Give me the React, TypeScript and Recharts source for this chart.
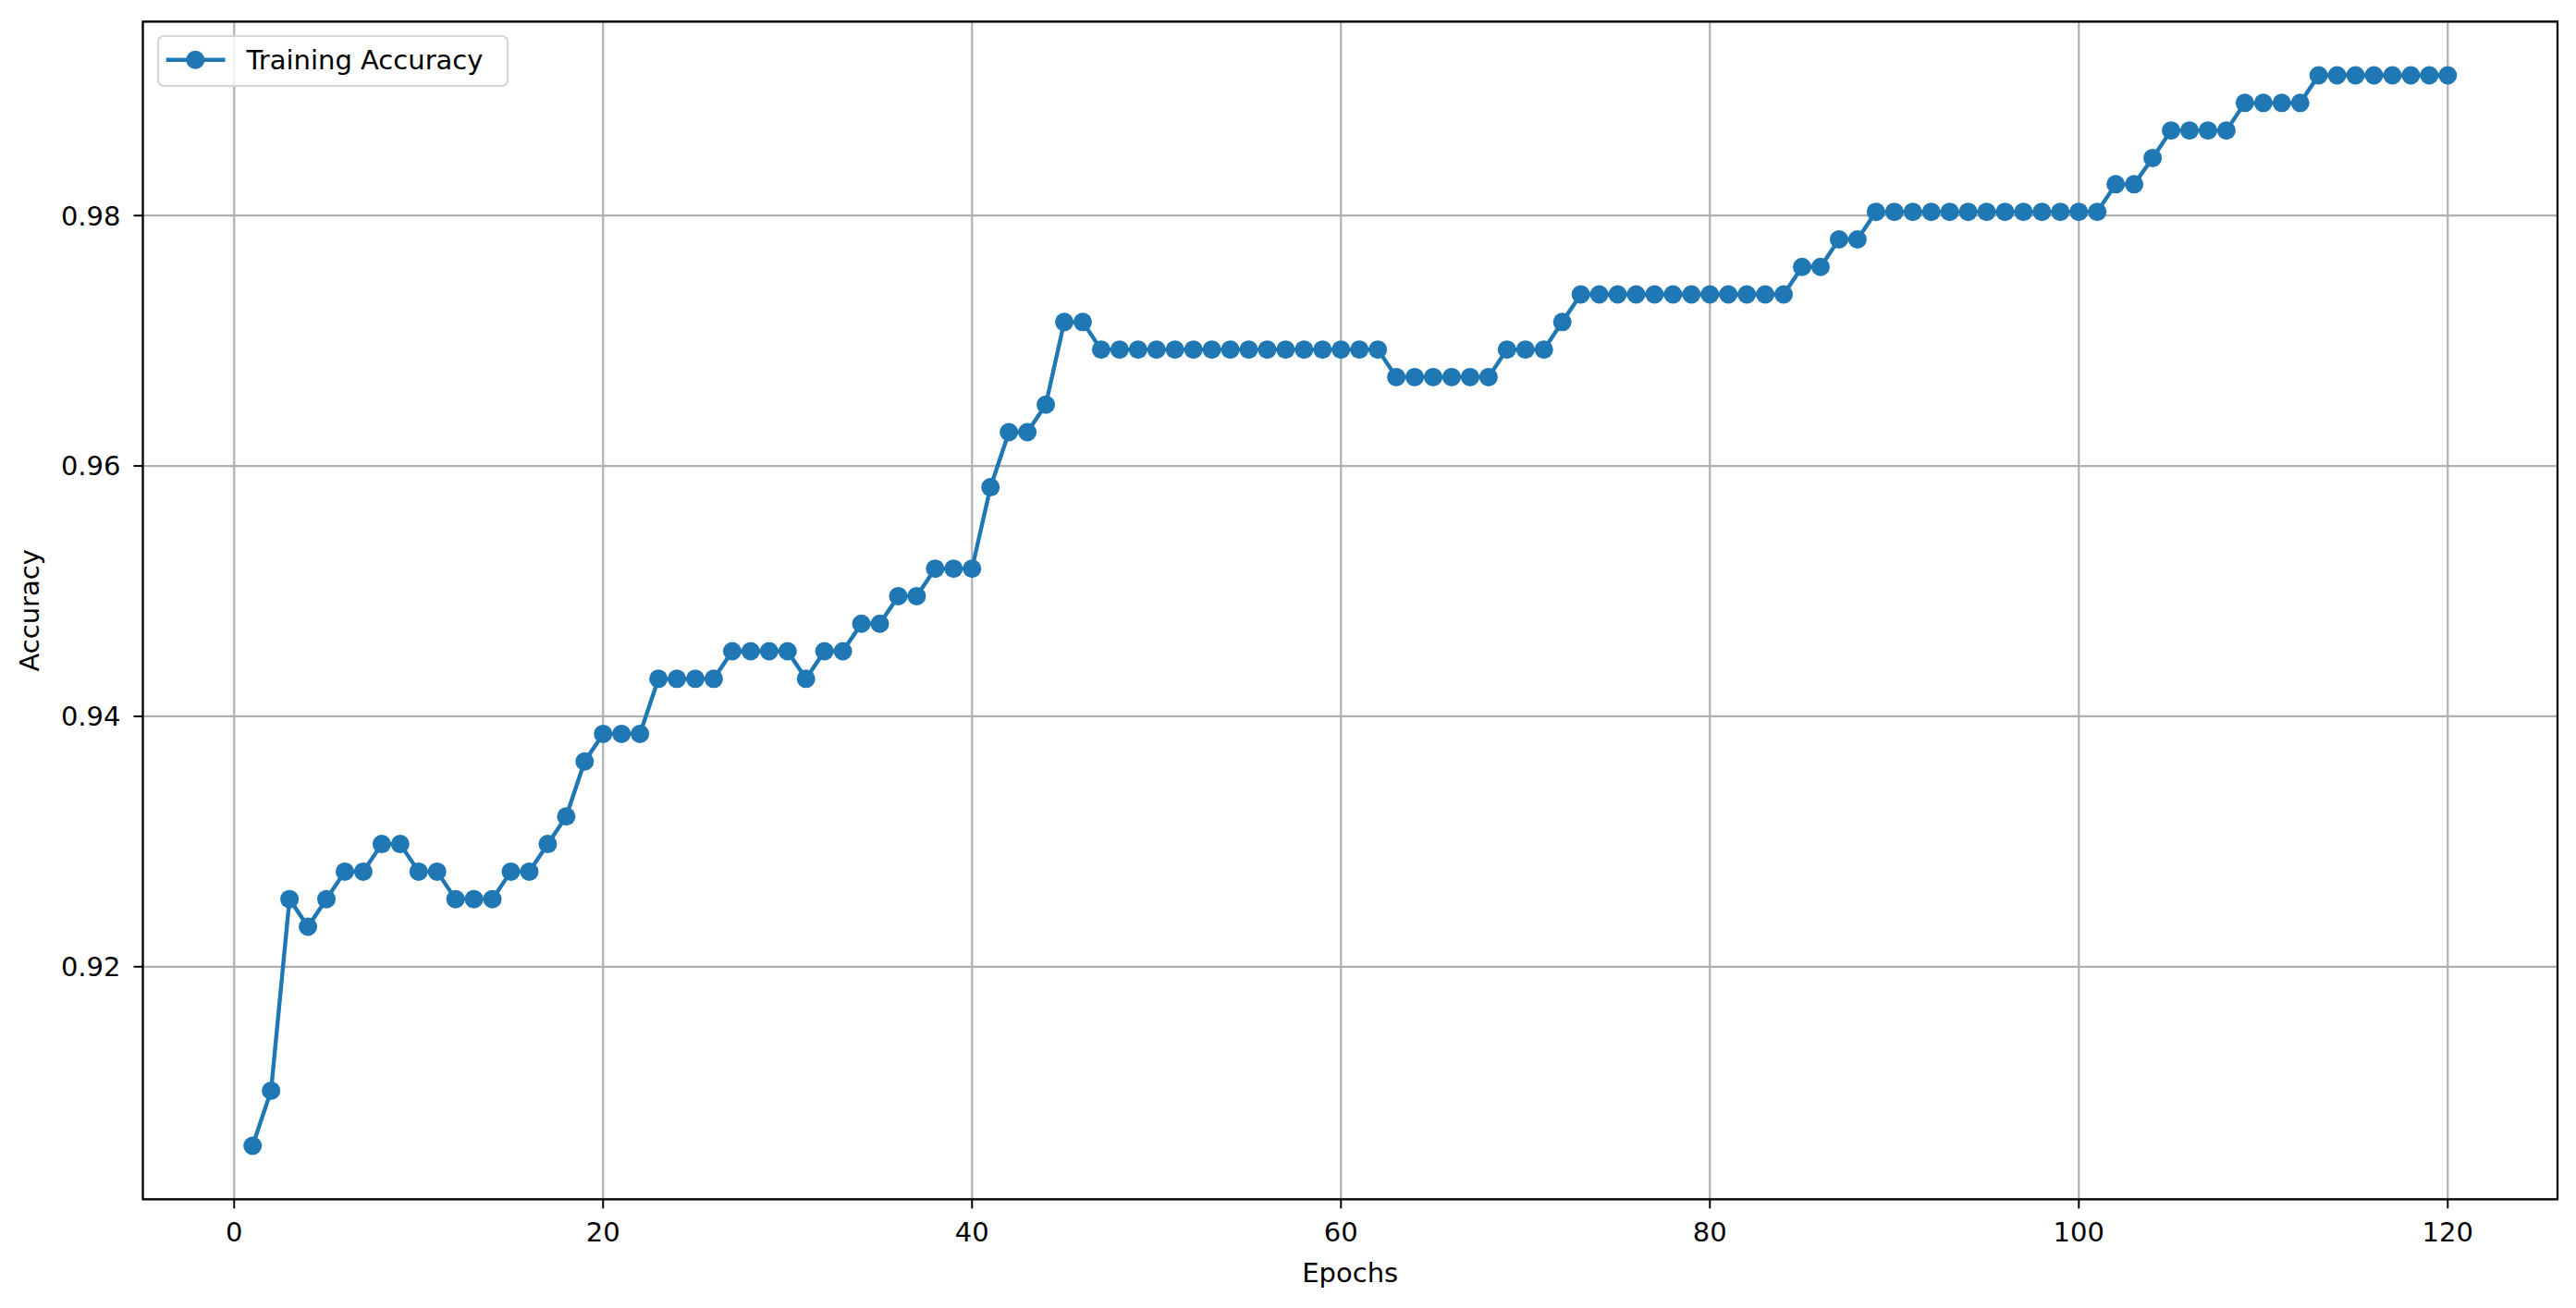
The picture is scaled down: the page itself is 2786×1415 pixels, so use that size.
import React from 'react';
import { LineChart, Line, XAxis, YAxis, CartesianGrid, ReferenceArea, Legend } from 'recharts';

const epochs = [
  1, 2, 3, 4, 5, 6, 7, 8, 9, 10, 11, 12, 13, 14, 15, 16, 17, 18, 19, 20,
  21, 22, 23, 24, 25, 26, 27, 28, 29, 30, 31, 32, 33, 34, 35, 36, 37, 38, 39, 40,
  41, 42, 43, 44, 45, 46, 47, 48, 49, 50, 51, 52, 53, 54, 55, 56, 57, 58, 59, 60,
  61, 62, 63, 64, 65, 66, 67, 68, 69, 70, 71, 72, 73, 74, 75, 76, 77, 78, 79, 80,
  81, 82, 83, 84, 85, 86, 87, 88, 89, 90, 91, 92, 93, 94, 95, 96, 97, 98, 99, 100,
  101, 102, 103, 104, 105, 106, 107, 108, 109, 110, 111, 112, 113, 114, 115, 116, 117, 118, 119, 120,
];

const trainingAccuracy = [
  0.9057, 0.9101, 0.9254, 0.9232, 0.9254, 0.9276, 0.9276, 0.9298, 0.9298, 0.9276,
  0.9276, 0.9254, 0.9254, 0.9254, 0.9276, 0.9276, 0.9298, 0.9320, 0.9364, 0.9386,
  0.9386, 0.9386, 0.9430, 0.9430, 0.9430, 0.9430, 0.9452, 0.9452, 0.9452, 0.9452,
  0.9430, 0.9452, 0.9452, 0.9474, 0.9474, 0.9496, 0.9496, 0.9518, 0.9518, 0.9518,
  0.9583, 0.9627, 0.9627, 0.9649, 0.9715, 0.9715, 0.9693, 0.9693, 0.9693, 0.9693,
  0.9693, 0.9693, 0.9693, 0.9693, 0.9693, 0.9693, 0.9693, 0.9693, 0.9693, 0.9693,
  0.9693, 0.9693, 0.9671, 0.9671, 0.9671, 0.9671, 0.9671, 0.9671, 0.9693, 0.9693,
  0.9693, 0.9715, 0.9737, 0.9737, 0.9737, 0.9737, 0.9737, 0.9737, 0.9737, 0.9737,
  0.9737, 0.9737, 0.9737, 0.9737, 0.9759, 0.9759, 0.9781, 0.9781, 0.9803, 0.9803,
  0.9803, 0.9803, 0.9803, 0.9803, 0.9803, 0.9803, 0.9803, 0.9803, 0.9803, 0.9803,
  0.9803, 0.9825, 0.9825, 0.9846, 0.9868, 0.9868, 0.9868, 0.9868, 0.9890, 0.9890,
  0.9890, 0.9890, 0.9912, 0.9912, 0.9912, 0.9912, 0.9912, 0.9912, 0.9912, 0.9912,
];

const xTicks = [0, 20, 40, 60, 80, 100, 120];
const yTicks = [0.92, 0.94, 0.96, 0.98];
const xDomain: [number, number] = [-4.95, 125.95];
const yDomain: [number, number] = [0.90143, 0.9955];
const seriesName = 'Training Accuracy';
const xLabel = 'Epochs';
const yLabel = 'Accuracy';

const data = epochs.map((e, i) => ({ epoch: e, acc: trainingAccuracy[i] }));

const FONT = 'DejaVu Sans';
const FS = 29;
const BLUE = '#1f77b4';
const DOT_R = 10;

const XLabelContent = (props: any) => {
  const vb = props.viewBox || { x: 0, y: 0, width: 0, height: 0 };
  return (
    <text x={vb.x + vb.width / 2} y={vb.y + 89.4} textAnchor="middle" fontSize={FS} fontFamily={FONT} fill="#000">
      {xLabel}
    </text>
  );
};

const YLabelContent = (props: any) => {
  const vb = props.viewBox || { x: 0, y: 0, width: 0, height: 0 };
  const x = vb.x + 34;
  const y = vb.y + vb.height / 2;
  return (
    <text x={x} y={y} transform={`rotate(-90, ${x}, ${y})`} textAnchor="middle" fontSize={FS} fontFamily={FONT} fill="#000">
      {yLabel}
    </text>
  );
};

const LegendContent = () => (
  <div
    style={{
      width: 380,
      height: 56,
      boxSizing: 'border-box',
      border: '2px solid #d4d4d4',
      borderRadius: 7,
      background: 'rgba(255,255,255,0.8)',
      position: 'relative',
    }}
  >
    <svg width={380} height={56} style={{ position: 'absolute', left: -2, top: -2 }}>
      <line x1={9.7} x2={73.5} y1={26.7} y2={26.7} stroke={BLUE} strokeWidth={4.4} />
      <circle cx={41.3} cy={26.7} r={DOT_R} fill={BLUE} />
      <text x={96.4} y={36.7} fontSize={FS} fontFamily={FONT} fill="#000">
        {seriesName}
      </text>
    </svg>
  </div>
);

export default function App() {
  return (
    <div style={{ width: 2770, height: 1399 }}>
      <LineChart
        width={2770}
        height={1399}
        data={data}
        margin={{ top: 15.3, right: 12, left: 0, bottom: 0 }}
        style={{ fontFamily: FONT }}
      >
        <CartesianGrid stroke="#b0b0b0" strokeWidth={2.2} />
        <XAxis
          dataKey="epoch"
          type="number"
          domain={xDomain}
          ticks={xTicks}
          allowDataOverflow
          height={109.7}
          axisLine={false}
          tickLine={{ stroke: '#000', strokeWidth: 2 }}
          tickSize={10}
          tickMargin={15}
          tick={{ fontSize: FS, fill: '#000', fontFamily: FONT }}
          interval={0}
          label={{ content: XLabelContent }}
        />
        <YAxis
          type="number"
          domain={yDomain}
          ticks={yTicks}
          allowDataOverflow
          width={146.5}
          axisLine={false}
          tickLine={{ stroke: '#000', strokeWidth: 2 }}
          tickSize={10}
          tickMargin={14}
          tick={{ fontSize: FS, fill: '#000', fontFamily: FONT }}
          tickFormatter={(v: number) => v.toFixed(2)}
          interval={0}
          label={{ content: YLabelContent }}
        />
        <Line
          type="linear"
          dataKey="acc"
          name={seriesName}
          stroke={BLUE}
          strokeWidth={4.4}
          dot={{ r: DOT_R, fill: BLUE, stroke: BLUE, strokeWidth: 0 }}
          activeDot={false}
          isAnimationActive={false}
        />
        <ReferenceArea
          x1={xDomain[0]}
          x2={xDomain[1]}
          y1={yDomain[0]}
          y2={yDomain[1]}
          fill="none"
          fillOpacity={0}
          stroke="#000"
          strokeWidth={2.2}
          ifOverflow="visible"
        />
        <Legend
          layout="vertical"
          align="center"
          verticalAlign="middle"
          content={LegendContent}
          wrapperStyle={{ left: 162.3, top: 30.3, width: 380, height: 56, right: 'auto', bottom: 'auto' }}
        />
      </LineChart>
    </div>
  );
}
